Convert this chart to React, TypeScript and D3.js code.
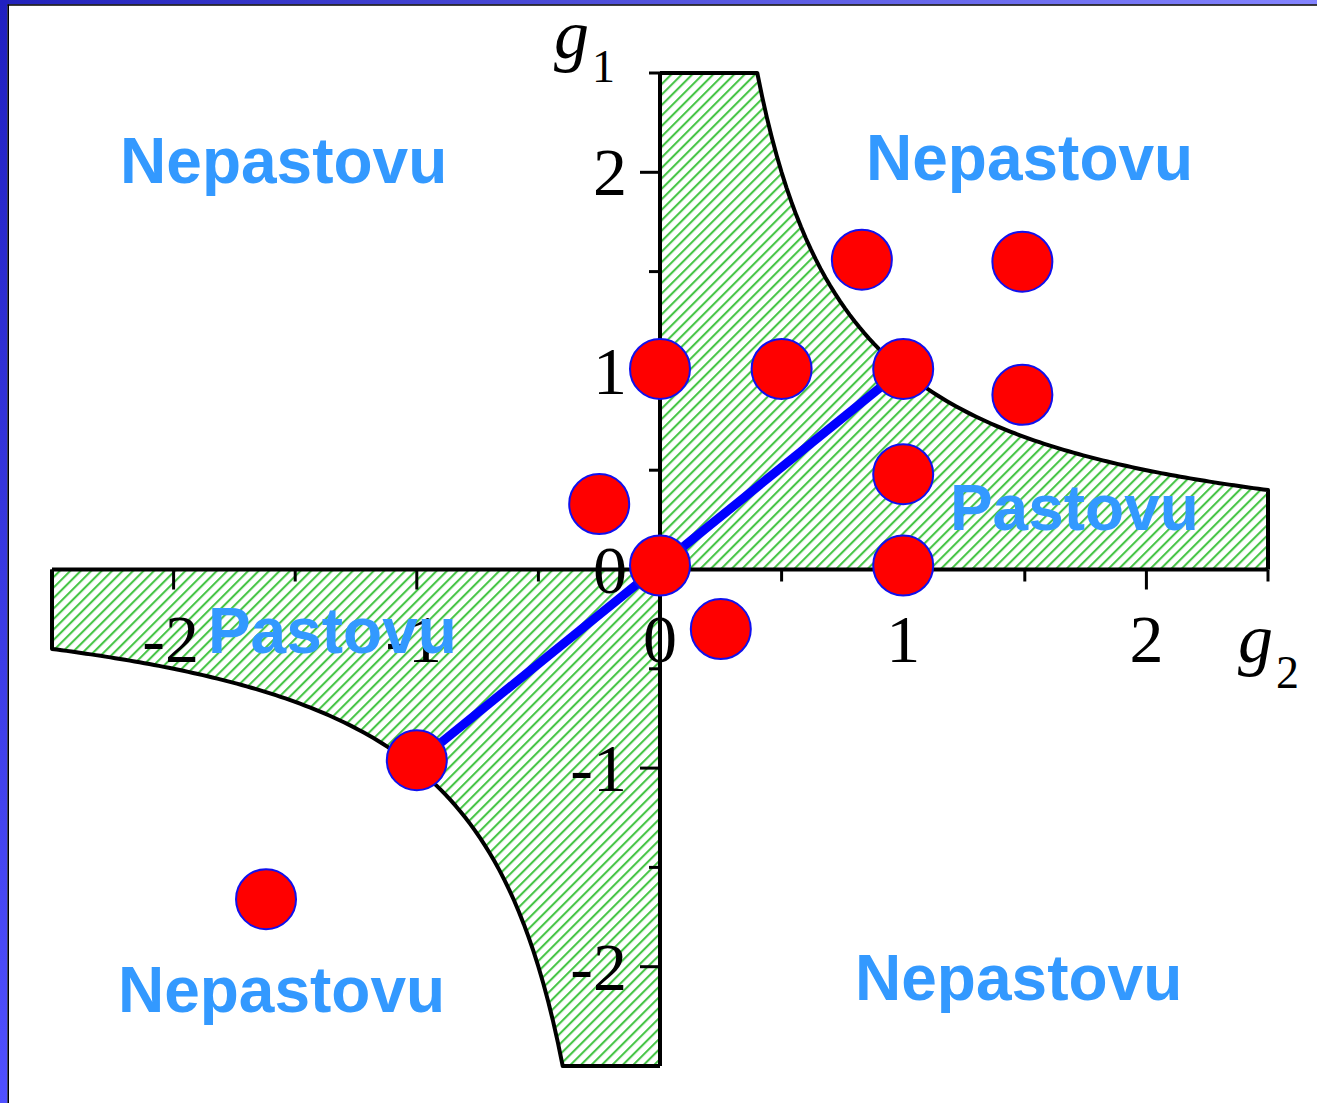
import React from 'react';
import * as d3 from 'd3';

const W = 1317;
const H = 1103;

// Domain of both axes
const g2Domain: [number, number] = [-2.5, 2.5];
const g1Domain: [number, number] = [-2.5, 2.5];

// Tick values
const majorTicks = [-2, -1, 0, 1, 2];
const minorTicks = [-2.5, -1.5, -0.5, 0.5, 1.5, 2.5];
const xTickLabels = ['-2', '-1', '0', '1', '2'];
const yTickLabels = ['-2', '-1', '0', '1', '2'];

// Red points (g2, g1)
const pointsG2 = [0.83, 1.49, 0, 0.5, 1, 1.49, 1, 1, -0.25, 0, 0.25, -1, -1.62];
const pointsG1 = [1.56, 1.55, 1.01, 1.01, 1.01, 0.88, 0.48, 0.02, 0.33, 0.02, -0.3, -0.96, -1.66];

// Blue diagonal endpoints (g2, g1)
const lineG2 = [-1, 1];
const lineG1 = [-0.97, 1.01];

// Region labels
const labelTexts = ['Nepastovu', 'Nepastovu', 'Nepastovu', 'Nepastovu', 'Pastovu', 'Pastovu'];
const labelG2 = [-2.22, 0.847, -2.229, 0.802, 1.192, -1.859];
const labelG1 = [1.946, 1.961, -2.228, -2.168, 0.199, -0.42];

export default function App() {
  const x = d3.scaleLinear().domain(g2Domain).range([52, 1268]);
  const y = d3.scaleLinear().domain(g1Domain).range([1066, 73]);

  const line = d3.line<[number, number]>().x(d => x(d[0])).y(d => y(d[1]));

  // Hyperbola g1 = 1/g2 boundaries
  const q1Curve: [number, number][] = d3.range(0.4, 2.5001, 0.02).map(g => [g, 1 / g]);
  const q3Curve: [number, number][] = d3.range(-2.5, -0.3999, 0.02).map(g => [g, 1 / g]);

  const q1Region: [number, number][] = [[0, 0], [0, 2.5], ...q1Curve, [2.5, 0], [0, 0]];
  const q3Region: [number, number][] = [[0, 0], [-2.5, 0], ...q3Curve, [0, -2.5], [0, 0]];
  const q1Outline: [number, number][] = [[0, 2.5], ...q1Curve, [2.5, 0]];
  const q3Outline: [number, number][] = [[-2.5, 0], ...q3Curve, [0, -2.5]];

  const serif = '"Liberation Serif", "Times New Roman", serif';
  const sans = '"Liberation Sans", Arial, sans-serif';
  const tickFs = 68;
  const hs = 7.4;

  return (
    <svg width={W} height={H} style={{ position: 'absolute', left: 0, top: 0, background: '#fff' }}>
      <defs>
        <pattern id="hatch" patternUnits="userSpaceOnUse" width={hs} height={hs} patternTransform="rotate(45)">
          <rect width={hs} height={hs} fill="#fff" />
          <line x1={2} y1={0} x2={2} y2={hs} stroke="#3fc23f" strokeWidth={2} />
        </pattern>
        <linearGradient id="topBand" x1="0" x2="1" y1="0" y2="0">
          <stop offset="0" stopColor="#2222bb" />
          <stop offset="1" stopColor="#8484ff" />
        </linearGradient>
        <linearGradient id="leftBand" x1="0" x2="0" y1="0" y2="1">
          <stop offset="0" stopColor="#2020c0" />
          <stop offset="1" stopColor="#5050ff" />
        </linearGradient>
      </defs>

      <rect x={0} y={0} width={W} height={H} fill="#fff" />

      {/* stability regions */}
      <path d={line(q1Region) ?? ''} fill="url(#hatch)" stroke="none" />
      <path d={line(q3Region) ?? ''} fill="url(#hatch)" stroke="none" />
      <path d={line(q1Outline) ?? ''} fill="none" stroke="#000" strokeWidth={4} strokeLinejoin="round" />
      <path d={line(q3Outline) ?? ''} fill="none" stroke="#000" strokeWidth={4} strokeLinejoin="round" />

      {/* axes */}
      <line x1={x(-2.5)} x2={x(2.5)} y1={y(0)} y2={y(0)} stroke="#000" strokeWidth={4} />
      <line x1={x(0)} x2={x(0)} y1={y(2.5)} y2={y(-2.5)} stroke="#000" strokeWidth={4} />
      {majorTicks.filter(t => t !== 0).map(t => (
        <line key={'xM' + t} x1={x(t)} x2={x(t)} y1={y(0)} y2={y(0) + 20} stroke="#000" strokeWidth={3} />
      ))}
      {minorTicks.map(t => (
        <line key={'xm' + t} x1={x(t)} x2={x(t)} y1={y(0)} y2={y(0) + 12} stroke="#000" strokeWidth={3} />
      ))}
      {majorTicks.filter(t => t !== 0).map(t => (
        <line key={'yM' + t} x1={x(0) - 20} x2={x(0)} y1={y(t)} y2={y(t)} stroke="#000" strokeWidth={3} />
      ))}
      {minorTicks.map(t => (
        <line key={'ym' + t} x1={x(0) - 11} x2={x(0)} y1={y(t)} y2={y(t)} stroke="#000" strokeWidth={3} />
      ))}

      {/* tick labels */}
      {majorTicks.map((t, i) => (
        <text key={'xl' + t} x={x(t) + (t < 0 ? -3 : 0)} y={y(0) + 92} textAnchor="middle"
          fontFamily={serif} fontSize={tickFs} fill="#000">{xTickLabels[i]}</text>
      ))}
      {majorTicks.map((t, i) => (
        <text key={'yl' + t} x={x(0) - 33} y={y(t) + 23} textAnchor="end"
          fontFamily={serif} fontSize={tickFs} fill="#000">{yTickLabels[i]}</text>
      ))}

      {/* axis titles */}
      <text x={554} y={58} fontFamily={serif} fontStyle="italic" fontSize={70} fill="#000">
        g<tspan fontStyle="normal" fontSize={46} dx={3} dy={24}>1</tspan>
      </text>
      <text x={1238} y={662} fontFamily={serif} fontStyle="italic" fontSize={70} fill="#000">
        g<tspan fontStyle="normal" fontSize={46} dx={3} dy={26}>2</tspan>
      </text>

      {/* blue diagonal */}
      <line x1={x(lineG2[0])} y1={y(lineG1[0])} x2={x(lineG2[1])} y2={y(lineG1[1])}
        stroke="#0000ff" strokeWidth={9} />

      {/* points */}
      {pointsG2.map((g2, i) => (
        <circle key={'p' + i} cx={x(g2)} cy={y(pointsG1[i])} r={30}
          fill="#ff0000" stroke="#1010ee" strokeWidth={2} />
      ))}

      {/* region labels */}
      {labelTexts.map((t, i) => (
        <text key={'lab' + i} x={x(labelG2[i])} y={y(labelG1[i])} fontFamily={sans}
          fontWeight="bold" fontSize={64} fill="#3399ff">{t}</text>
      ))}

      {/* frame */}
      <rect x={0} y={0} width={W} height={4.5} fill="url(#topBand)" />
      <rect x={0} y={0} width={7.5} height={H} fill="url(#leftBand)" />
      <line x1={7.5} x2={W} y1={5} y2={5} stroke="#000" strokeWidth={1.6} />
      <line x1={8.2} x2={8.2} y1={4.5} y2={H} stroke="#000" strokeWidth={1.6} />
    </svg>
  );
}
